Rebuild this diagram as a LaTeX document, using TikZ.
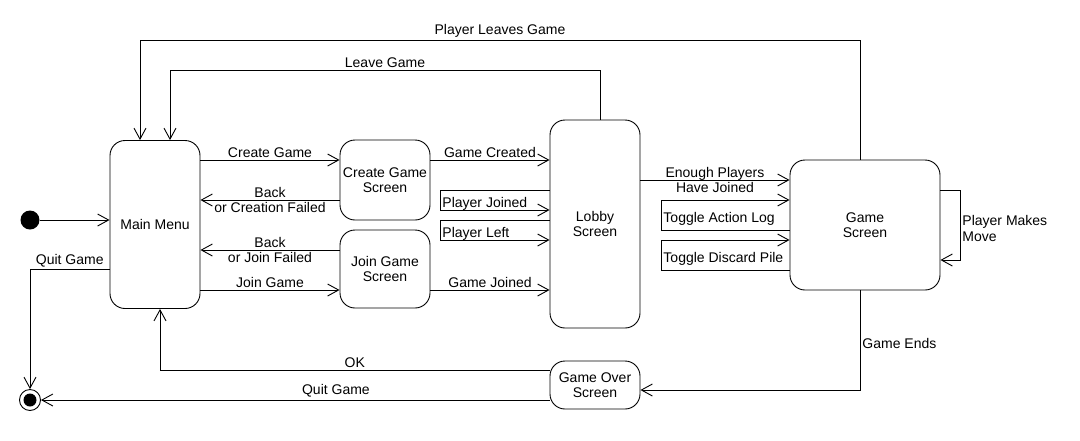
\documentclass[tikz,border=0pt]{standalone}
\usepackage{fontspec}
\setmainfont{Liberation Sans}
\usetikzlibrary{arrows.meta, positioning}
\tikzset{
->, % every connector is directed
>={Straight Barb[length=11pt,width=12pt]}, % open arrow heads
every node/.style={font=\fontsize{14}{15.5}\selectfont, inner sep=2pt}, % text of screens and labels
screen/.style={draw, rounded corners=15pt, minimum width=90pt, align=center}, % sets the properties for each screen
start/.style={circle, fill, minimum size=19pt, inner sep=0pt}, % initial state
stop/.style={circle, draw, minimum size=21pt, inner sep=0pt,
  path picture={\fill (path picture bounding box.center) circle (6.5pt);}}, % final state
loop label/.style={right, yshift=-3.5pt}, % text inside a self loop
}
\begin{document}
\begin{tikzpicture}[x=1pt, y=-1pt, line width=0.9pt]
                \useasboundingbox (0,0) rectangle (1080,440);

                \node[start] (init) at (30,220) {};
                \node[stop] (final) at (30,400) {};

                \node[screen, minimum height=168pt] (menu) at (155,224.5) {Main Menu};
                \node[screen, minimum height=80pt] (create) at (385,180) {Create Game\\Screen};
                \node[screen, minimum height=78pt] (join) at (385,269) {Join Game\\Screen};
                \node[screen, minimum height=208pt] (lobby) at (595,224) {Lobby\\Screen};
                \node[screen, minimum width=150pt, minimum height=130pt] (game) at (865,225) {Game\\Screen};
                \node[screen, minimum height=48pt] (over) at (595,385) {Game Over\\Screen};

                % turning points of the self loops and long connectors
                \coordinate (pjTop) at (440,190);
                \coordinate (pjBot) at (440,210);
                \coordinate (plTop) at (440,220);
                \coordinate (plBot) at (440,240);
                \coordinate (talTop) at (661,200);
                \coordinate (talBot) at (661,230);
                \coordinate (tdpTop) at (661,240);
                \coordinate (tdpBot) at (661,270);
                \coordinate (pmTop) at (960,190);
                \coordinate (pmBot) at (960,260);
                \coordinate (lgTurn) at (170,70);
                \coordinate (plgTurn) at (140,40);

                \draw (init) -- (init -| menu.west);
                \draw (menu.east |- 0,160) -- node[above] {Create Game} (create.west |- 0,160);
                \draw (create.west |- 0,200) -- node[align=center] {Back\\or Creation Failed} (menu.east |- 0,200);
                \draw (join.west |- 0,250) -- node[align=center] {Back\\or Join Failed} (menu.east |- 0,250);
                \draw (menu.east |- 0,290) -- node[above] {Join Game} (join.west |- 0,290);
                \draw (create.east |- 0,160) -- node[above] {Game Created} (lobby.west |- 0,160);
                \draw (join.east |- 0,290) -- node[above] {Game Joined} (lobby.west |- 0,290);
                \draw (lobby.east |- 0,180) -- node[align=center] {Enough Players\\Have Joined} (game.west |- 0,180);

                \draw (lobby.west |- pjTop) -- (pjTop) -- node[loop label] {Player Joined} (pjBot) -- (lobby.west |- pjBot);
                \draw (lobby.west |- plTop) -- (plTop) -- node[loop label] {Player Left} (plBot) -- (lobby.west |- plBot);
                \draw (game.west |- talBot) -- (talBot) -- node[loop label] {Toggle Action Log} (talTop) -- (game.west |- talTop);
                \draw (game.west |- tdpBot) -- (tdpBot) -- node[loop label] {Toggle Discard Pile} (tdpTop) -- (game.west |- tdpTop);
                \draw (game.east |- pmTop) -- (pmTop) -- node[loop label, align=left] {Player Makes\\Move} (pmBot) -- (game.east |- pmBot);

                \draw ([xshift=5pt]lobby.north) |- node[pos=0.75, above] {Leave Game} (lgTurn) -- ([xshift=15pt]menu.north);
                \draw ([xshift=-5pt]game.north) |- node[pos=0.75, above] {Player Leaves Game} (plgTurn) -- ([xshift=-15pt]menu.north);
                \draw ([xshift=-5pt]game.south) |- node[pos=0.25, right, yshift=-3pt] {Game Ends} ([yshift=-5pt]over.east);
                \draw ([yshift=15pt]over.west) -| node[pos=0.25, above] {OK} ([xshift=5pt]menu.south);
                \draw ([yshift=-15pt]over.west) -- node[pos=0.42, above] {Quit Game} (final.east);
                \draw ([yshift=-45pt]menu.west) -| node[pos=0.25, above] {Quit Game} (final.north);
\end{tikzpicture}
\end{document}
